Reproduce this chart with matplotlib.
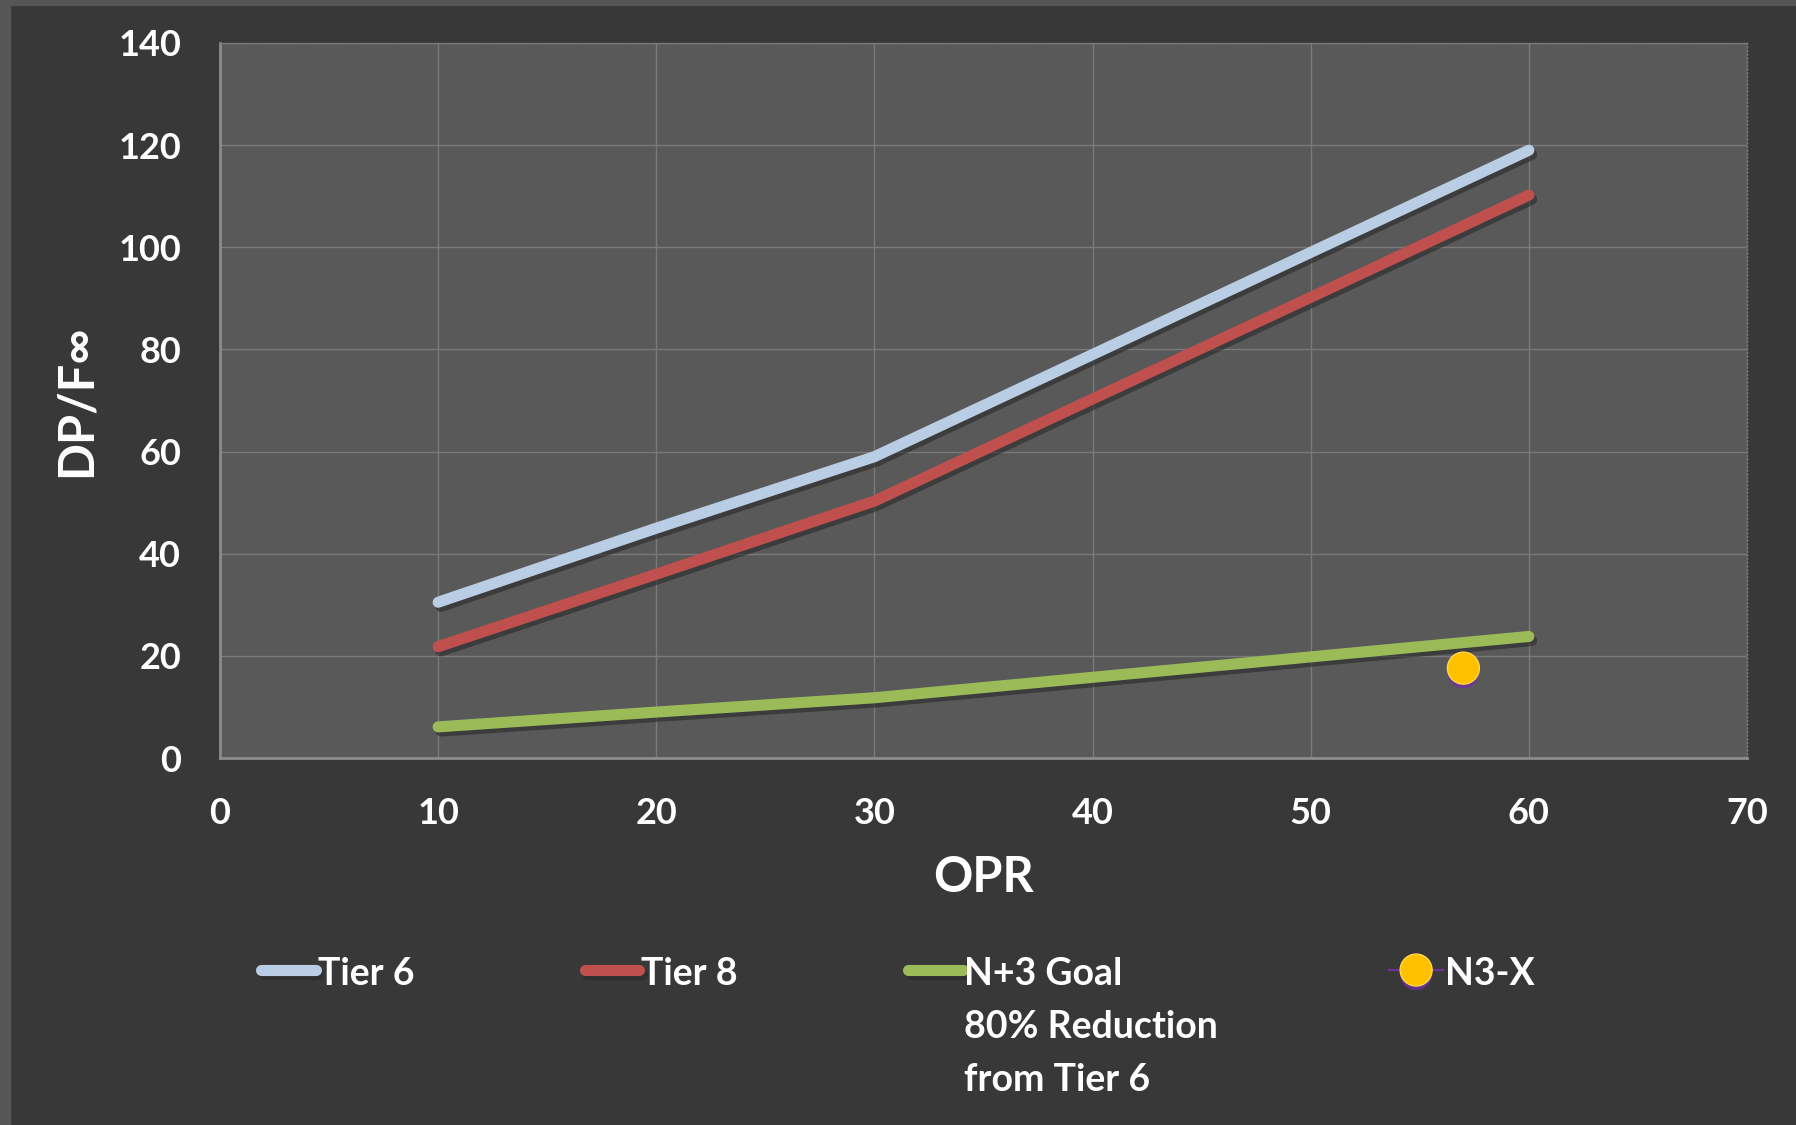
import numpy as np
import matplotlib.pyplot as plt
import matplotlib.patheffects as pe

# data
opr = [10, 20, 30, 40, 50, 60]
tier6 = [30.5, 45, 59, 79, 99, 119]
tier8 = [21.8, 36, 50.3, 70.3, 90.2, 110.2]
goal = [6.1, 9.0, 11.8, 15.8, 19.8, 23.8]
n3x_opr = [57]
n3x_val = [17.6]

xticks = [0, 10, 20, 30, 40, 50, 60, 70]
yticks = [0, 20, 40, 60, 80, 100, 120, 140]

plt.rcParams['font.family'] = ['Lato', 'DejaVu Sans']
plt.rcParams['font.weight'] = 'bold'

fig = plt.figure(figsize=(17.96, 11.25), dpi=100, facecolor='#383838')
# lighter strips on the left and top edges of the slide
fig.patches.append(plt.Rectangle((0, 0), 10 / 1796, 1, transform=fig.transFigure,
                                 color='#565656', zorder=0))
fig.patches.append(plt.Rectangle((0, 1 - 5 / 1125), 1, 5 / 1125, transform=fig.transFigure,
                                 color='#565656', zorder=0))
ax = fig.add_axes([0.1225, 0.3262, 0.8502, 0.6356])
ax.set_facecolor('#595959')

shadow = [pe.SimpleLineShadow(offset=(2, -3), shadow_color='#2a2a2a', alpha=0.6), pe.Normal()]

ax.plot(opr, tier6, color='#b9cde5', lw=8, solid_capstyle='round',
        path_effects=shadow, label='Tier 6', zorder=3)
ax.plot(opr, tier8, color='#c0504d', lw=8, solid_capstyle='round',
        path_effects=shadow, label='Tier 8', zorder=3)
ax.plot(opr, goal, color='#9bbb59', lw=8, solid_capstyle='round',
        path_effects=shadow, label='N+3 Goal\n80% Reduction\nfrom Tier 6', zorder=3)
ax.plot(n3x_opr, n3x_val, color='#7030a0', lw=1.5, marker='o', markersize=23,
        markerfacecolor='#ffc000', markeredgecolor='#ffd84a', markeredgewidth=1,
        label='N3-X', zorder=4,
        path_effects=[pe.SimplePatchShadow(offset=(0, -3), shadow_rgbFace='#7030a0', alpha=0.8), pe.Normal()])

ax.set_xlim(0, 70)
ax.set_ylim(0, 140)
ax.set_xticks(xticks)
ax.set_yticks(yticks)
ax.grid(True, color='#7a7a7a', lw=1)
ax.set_axisbelow(True)
ax.tick_params(colors='white', labelsize=26, length=0, pad=28)
for lab in ax.get_xticklabels() + ax.get_yticklabels():
    lab.set_fontweight('bold')
for s in ['top', 'right']:
    ax.spines[s].set_color('#7a7a7a')
    ax.spines[s].set_linestyle(':')
    ax.spines[s].set_linewidth(1)
for s in ['left', 'bottom']:
    ax.spines[s].set_color('#8c8c8c')
    ax.spines[s].set_linewidth(2)

ax.set_xlabel('OPR', color='white', fontsize=35, fontweight='bold', labelpad=18)
ax.set_ylabel('DP/F∞', color='white', fontsize=35, fontweight='bold', labelpad=14)

leg = fig.legend(loc='upper left', bbox_to_anchor=(0.1455, 0.1494), ncol=4,
                 frameon=False, fontsize=27, handlelength=1.45, handletextpad=0.05,
                 columnspacing=4.55, labelcolor='white', borderpad=0, borderaxespad=0)
for t in leg.get_texts():
    t.set_fontweight('bold')
    t.set_linespacing(1.68)
# keep handles next to the first line of a multi-line label
leg._legend_handle_box.align = 'top'
for col in leg._legend_handle_box.get_children():
    col.align = 'left'
    for row in col.get_children():
        row.align = 'top'

fig.savefig('out.png', dpi=100, facecolor=fig.get_facecolor())
